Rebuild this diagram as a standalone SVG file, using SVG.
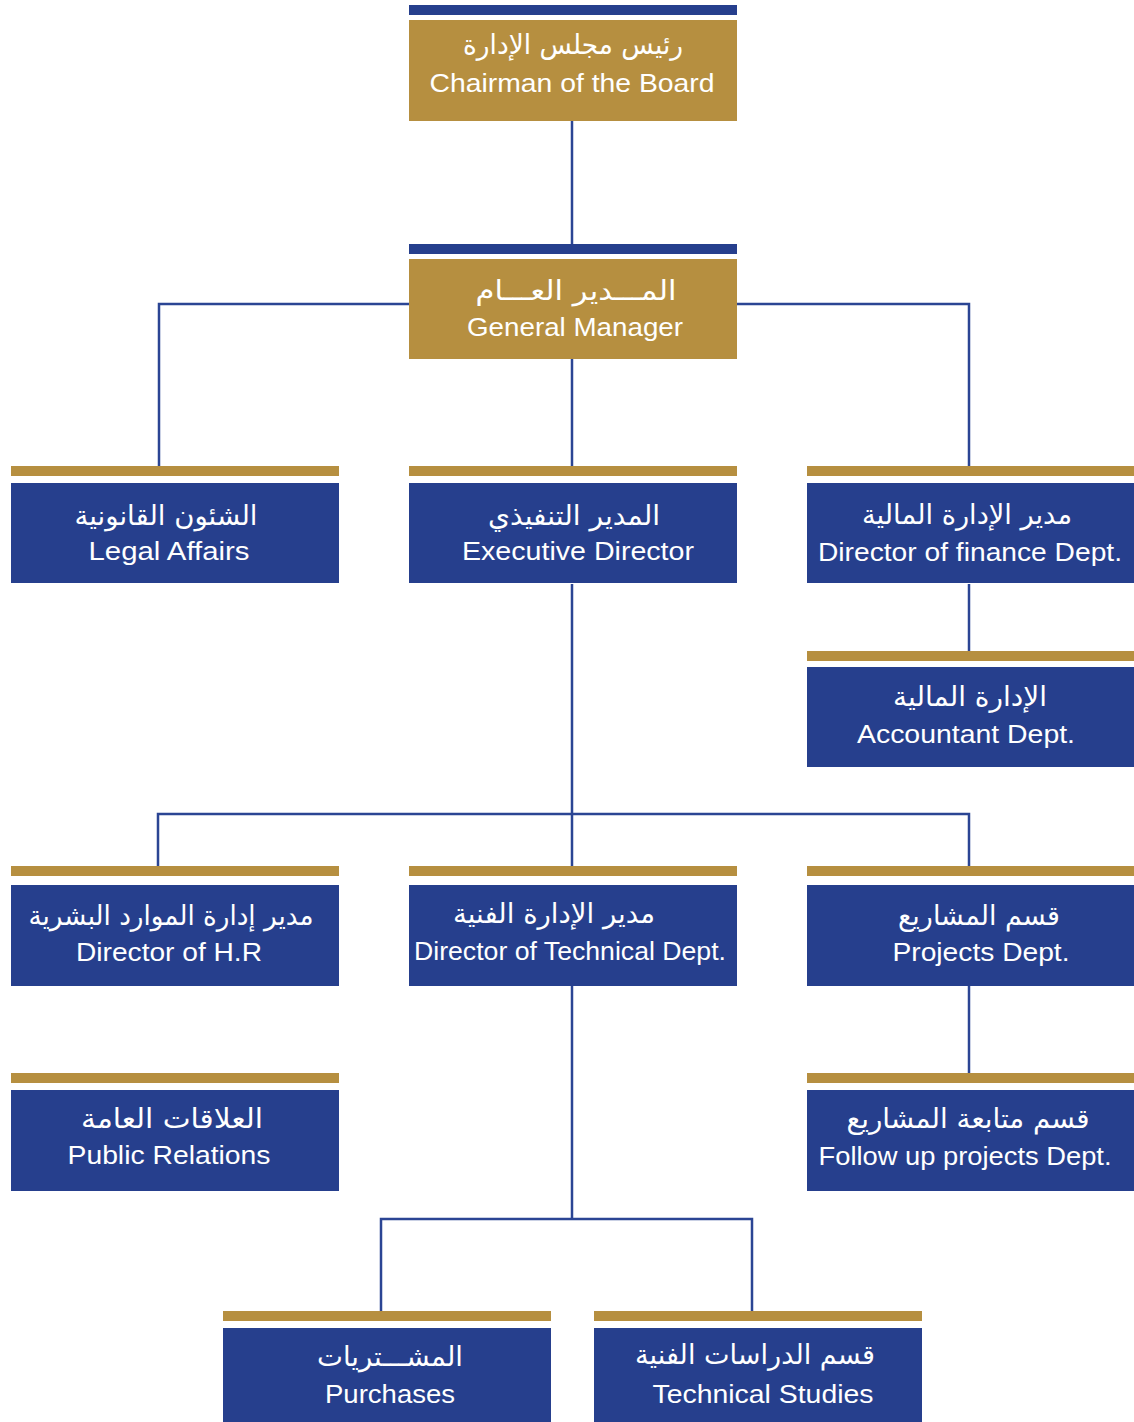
<svg xmlns="http://www.w3.org/2000/svg" width="1134" height="1422" viewBox="0 0 1134 1422">
<style>
.bg{fill:#ffffff}
.gold{fill:#B68F40}
.blue{fill:#263F8D}
.ln{stroke:#2B4594;stroke-width:2.5;fill:none}
.t{fill:#ffffff;font-family:"Liberation Sans","DejaVu Sans",sans-serif;font-size:26px;text-anchor:middle}
.ar{fill:#ffffff;font-family:"DejaVu Sans","Noto Sans",sans-serif;font-size:27px;text-anchor:middle}
</style>
<rect class="bg" x="0" y="0" width="1134" height="1422"/>
<g id="connectors">
<path class="ln" d="M572 121V244"/>
<path class="ln" d="M409 304H159V466"/>
<path class="ln" d="M737 304H969V466"/>
<path class="ln" d="M572 359V466"/>
<path class="ln" d="M572 584V866"/>
<path class="ln" d="M158 866V814H969V866"/>
<path class="ln" d="M969 584V651"/>
<path class="ln" d="M572 986V1219"/>
<path class="ln" d="M381 1311V1219H752V1311"/>
<path class="ln" d="M969 986V1073"/>
</g>
<g id="chairman">
<rect class="blue" x="409" y="5" width="328" height="10"/>
<rect class="gold" x="409" y="20" width="328" height="101"/>
<text class="ar" x="573" y="54" textLength="220" lengthAdjust="spacingAndGlyphs">رئيس مجلس الإدارة</text>
<text class="t" x="572" y="92" textLength="285" lengthAdjust="spacingAndGlyphs">Chairman of the Board</text>
</g>
<g id="general-manager">
<rect class="blue" x="409" y="244" width="328" height="10"/>
<rect class="gold" x="409" y="259" width="328" height="100"/>
<text class="ar" x="576" y="300" textLength="201" lengthAdjust="spacingAndGlyphs">المـــدير العـــام</text>
<text class="t" x="575" y="336" textLength="216" lengthAdjust="spacingAndGlyphs">General Manager</text>
</g>
<g id="legal-affairs">
<rect class="gold" x="11" y="466" width="328" height="10"/>
<rect class="blue" x="11" y="483" width="328" height="100"/>
<text class="ar" x="166" y="525" textLength="183" lengthAdjust="spacingAndGlyphs">الشئون القانونية</text>
<text class="t" x="169" y="560" textLength="161" lengthAdjust="spacingAndGlyphs">Legal Affairs</text>
</g>
<g id="executive-director">
<rect class="gold" x="409" y="466" width="328" height="10"/>
<rect class="blue" x="409" y="483" width="328" height="100"/>
<text class="ar" x="574" y="525" textLength="172" lengthAdjust="spacingAndGlyphs">المدير التنفيذي</text>
<text class="t" x="578" y="560" textLength="232" lengthAdjust="spacingAndGlyphs">Executive Director</text>
</g>
<g id="finance-director">
<rect class="gold" x="807" y="466" width="327" height="10"/>
<rect class="blue" x="807" y="483" width="327" height="100"/>
<text class="ar" x="967" y="524" textLength="210" lengthAdjust="spacingAndGlyphs">مدير الإدارة المالية</text>
<text class="t" x="970" y="561" textLength="304" lengthAdjust="spacingAndGlyphs">Director of finance Dept.</text>
</g>
<g id="accountant">
<rect class="gold" x="807" y="651" width="327" height="10"/>
<rect class="blue" x="807" y="667" width="327" height="100"/>
<text class="ar" x="970" y="706" textLength="154" lengthAdjust="spacingAndGlyphs">الإدارة المالية</text>
<text class="t" x="966" y="743" textLength="218" lengthAdjust="spacingAndGlyphs">Accountant Dept.</text>
</g>
<g id="hr-director">
<rect class="gold" x="11" y="866" width="328" height="10"/>
<rect class="blue" x="11" y="885" width="328" height="101"/>
<text class="ar" x="171" y="925" textLength="285" lengthAdjust="spacingAndGlyphs">مدير إدارة الموارد البشرية</text>
<text class="t" x="169" y="961" textLength="186" lengthAdjust="spacingAndGlyphs">Director of H.R</text>
</g>
<g id="technical-director">
<rect class="gold" x="409" y="866" width="328" height="10"/>
<rect class="blue" x="409" y="885" width="328" height="101"/>
<text class="ar" x="554" y="923" textLength="202" lengthAdjust="spacingAndGlyphs">مدير الإدارة الفنية</text>
<text class="t" x="570" y="960" textLength="312" lengthAdjust="spacingAndGlyphs">Director of Technical Dept.</text>
</g>
<g id="projects">
<rect class="gold" x="807" y="866" width="327" height="10"/>
<rect class="blue" x="807" y="885" width="327" height="101"/>
<text class="ar" x="979" y="925" textLength="162" lengthAdjust="spacingAndGlyphs">قسم المشاريع</text>
<text class="t" x="981" y="961" textLength="177" lengthAdjust="spacingAndGlyphs">Projects Dept.</text>
</g>
<g id="public-relations">
<rect class="gold" x="11" y="1073" width="328" height="10"/>
<rect class="blue" x="11" y="1090" width="328" height="101"/>
<text class="ar" x="172" y="1128" textLength="182" lengthAdjust="spacingAndGlyphs">العلاقات العامة</text>
<text class="t" x="169" y="1164" textLength="203" lengthAdjust="spacingAndGlyphs">Public Relations</text>
</g>
<g id="follow-up-projects">
<rect class="gold" x="807" y="1073" width="327" height="10"/>
<rect class="blue" x="807" y="1090" width="327" height="101"/>
<text class="ar" x="968" y="1128" textLength="243" lengthAdjust="spacingAndGlyphs">قسم متابعة المشاريع</text>
<text class="t" x="965" y="1165" textLength="293" lengthAdjust="spacingAndGlyphs">Follow up projects Dept.</text>
</g>
<g id="purchases">
<rect class="gold" x="223" y="1311" width="328" height="10"/>
<rect class="blue" x="223" y="1328" width="328" height="94"/>
<text class="ar" x="390" y="1366" textLength="146" lengthAdjust="spacingAndGlyphs">المشـــتريات</text>
<text class="t" x="390" y="1403" textLength="130" lengthAdjust="spacingAndGlyphs">Purchases</text>
</g>
<g id="technical-studies">
<rect class="gold" x="594" y="1311" width="328" height="10"/>
<rect class="blue" x="594" y="1328" width="328" height="94"/>
<text class="ar" x="755" y="1364" textLength="240" lengthAdjust="spacingAndGlyphs">قسم الدراسات الفنية</text>
<text class="t" x="763" y="1403" textLength="221" lengthAdjust="spacingAndGlyphs">Technical Studies</text>
</g>
</svg>
